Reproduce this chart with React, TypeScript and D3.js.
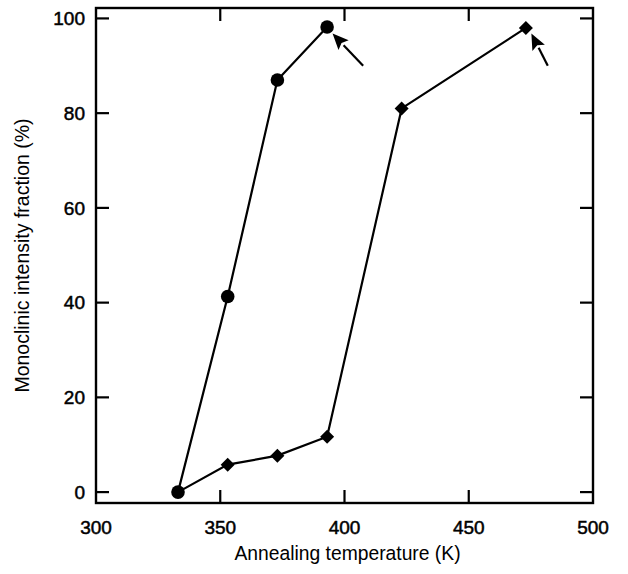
import { useEffect, useRef } from 'react';
import * as d3 from 'd3';

// circles series
const circleTemps = [333, 353, 373, 393];
const circleVals = [0, 41.3, 87, 98.2];
// diamond series (starts from the first circle point)
const diamondTemps = [353, 373, 393, 423, 473];
const diamondVals = [5.8, 7.7, 11.7, 81, 98];

const xTicks = [300, 350, 400, 450, 500];
const yTicks = [0, 20, 40, 60, 80, 100];

// arrow annotations: [fromX, fromY, toX, toY] in data units
const arrows = [
  [407.5, 90, 395.2, 96.8],
  [481.8, 90, 475.2, 96.8],
];

const App = () => {
  const ref = useRef<SVGSVGElement>(null);

  useEffect(() => {
    if (!ref.current) return;
    const width = 628;
    const height = 574;
    const m = { top: 8, right: 35, bottom: 71, left: 96 };

    const svg = d3.select(ref.current);
    svg.selectAll('*').remove();
    svg.attr('width', width).attr('height', height);

    const x = d3.scaleLinear().domain([300, 500]).range([m.left, width - m.right]);
    const y = d3.scaleLinear().domain([-2.3, 102.2]).range([height - m.bottom, m.top]);

    const font = 'Liberation Sans, Arial, sans-serif';

    // frame
    svg.append('rect')
      .attr('x', m.left).attr('y', m.top)
      .attr('width', width - m.right - m.left)
      .attr('height', height - m.bottom - m.top)
      .attr('fill', 'none').attr('stroke', '#000').attr('stroke-width', 2.4);

    const tl = 13;
    const g = svg.append('g').attr('stroke', '#000').attr('stroke-width', 2.2);
    xTicks.slice(1, -1).forEach(t => {
      g.append('line').attr('x1', x(t)).attr('x2', x(t)).attr('y1', y.range()[0]).attr('y2', y.range()[0] - tl);
      g.append('line').attr('x1', x(t)).attr('x2', x(t)).attr('y1', y.range()[1]).attr('y2', y.range()[1] + tl);
    });
    yTicks.forEach(t => {
      g.append('line').attr('x1', x.range()[0]).attr('x2', x.range()[0] + tl).attr('y1', y(t)).attr('y2', y(t));
      g.append('line').attr('x1', x.range()[1]).attr('x2', x.range()[1] - tl).attr('y1', y(t)).attr('y2', y(t));
    });

    svg.append('g').selectAll('text').data(xTicks).join('text')
      .attr('x', d => x(d)).attr('y', 534)
      .attr('text-anchor', 'middle')
      .attr('font-family', font).attr('font-size', 19)
      .attr('stroke', '#000').attr('stroke-width', 0.5)
      .text(d => d);

    svg.append('g').selectAll('text').data(yTicks).join('text')
      .attr('x', 85).attr('y', d => y(d)).attr('dy', '0.35em')
      .attr('text-anchor', 'end')
      .attr('font-family', font).attr('font-size', 19)
      .attr('stroke', '#000').attr('stroke-width', 0.5)
      .text(d => d);

    svg.append('text')
      .attr('x', (x.range()[0] + x.range()[1]) / 2 + 3).attr('y', 560)
      .attr('text-anchor', 'middle')
      .attr('font-family', font).attr('font-size', 19.3)
      .text('Annealing temperature (K)');

    svg.append('text')
      .attr('transform', `translate(29,${(y.range()[0] + y.range()[1]) / 2}) rotate(-90)`)
      .attr('text-anchor', 'middle')
      .attr('font-family', font).attr('font-size', 19.5)
      .text('Monoclinic intensity fraction (%)');

    const line = d3.line<[number, number]>().x(d => x(d[0])).y(d => y(d[1]));
    const circlePts: [number, number][] = circleTemps.map((t, i) => [t, circleVals[i]]);
    const diamondPts: [number, number][] = [[circleTemps[0], circleVals[0]], ...diamondTemps.map((t, i) => [t, diamondVals[i]] as [number, number])];

    svg.append('path').attr('d', line(circlePts)).attr('fill', 'none').attr('stroke', '#000').attr('stroke-width', 2.2);
    svg.append('path').attr('d', line(diamondPts)).attr('fill', 'none').attr('stroke', '#000').attr('stroke-width', 2.2);

    svg.append('g').selectAll('circle').data(circlePts).join('circle')
      .attr('cx', d => x(d[0])).attr('cy', d => y(d[1])).attr('r', 6.8).attr('fill', '#000');

    svg.append('g').selectAll('path').data(diamondTemps.map((t, i) => [t, diamondVals[i]])).join('path')
      .attr('d', d3.symbol().type(d3.symbolDiamond2).size(125)())
      .attr('transform', d => `translate(${x(d[0])},${y(d[1])})`)
      .attr('fill', '#000');

    // arrows with filled heads
    arrows.forEach(a => {
      const x1 = x(a[0]), y1 = y(a[1]), x2 = x(a[2]), y2 = y(a[3]);
      const ang = Math.atan2(y2 - y1, x2 - x1);
      const hl = 16, hw = 7;
      const bx = x2 - hl * Math.cos(ang), by = y2 - hl * Math.sin(ang);
      svg.append('line')
        .attr('x1', x1).attr('y1', y1).attr('x2', bx).attr('y2', by)
        .attr('stroke', '#000').attr('stroke-width', 2.2);
      const px = -Math.sin(ang), py = Math.cos(ang);
      svg.append('path')
        .attr('d', `M${x2},${y2} L${bx + px * hw},${by + py * hw} L${bx + 3 * Math.cos(ang)},${by + 3 * Math.sin(ang)} L${bx - px * hw},${by - py * hw} Z`)
        .attr('fill', '#000');
    });
  }, []);

  return <svg ref={ref} style={{ position: 'absolute', left: 0, top: 0 }} />;
};

export default App;
